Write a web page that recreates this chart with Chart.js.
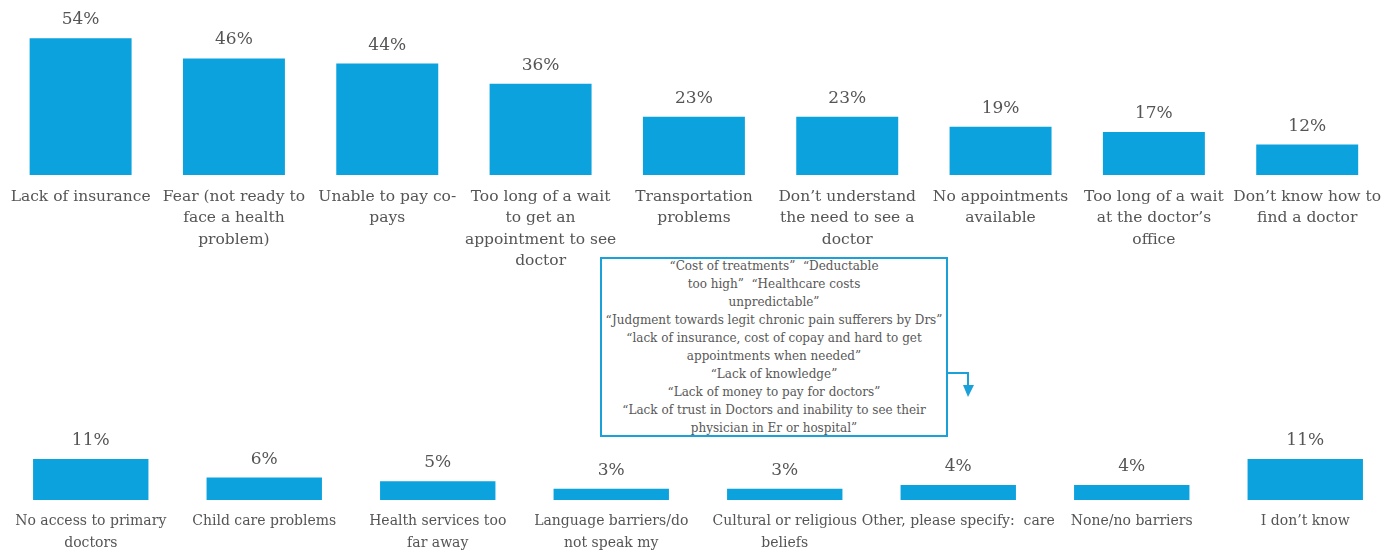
<!DOCTYPE html>
<html>
<head>
<meta charset="utf-8">
<script src="https://cdn.jsdelivr.net/npm/chart.js@4.4.0/dist/chart.umd.min.js"></script>
<style>
  html, body { margin: 0; padding: 0; background: #fff; overflow: hidden; width: 1387px; height: 554px; }
  .wrap { position: absolute; left: 0; }
  #topWrap { top: 0; }
  #bottomWrap { top: 400px; }
  .note {
    position: absolute; left: 600px; top: 257px; width: 348px; height: 180px;
    box-sizing: border-box; border: 2px solid #1ba1d9; background: #fff;
    font: 12px "DejaVu Serif", serif; line-height: 18px; color: #585858;
    text-align: center; white-space: pre;
  }
  .note div { margin-top: -2px; }
  .arrow { position: absolute; left: 946px; top: 366px; }
</style>
</head>
<body>
<div class="wrap" id="topWrap"><canvas id="topChart" width="1392" height="280"></canvas></div>
<div class="note" id="note"><div id="noteText"></div></div>
<svg class="arrow" width="36" height="36" viewBox="0 0 36 36">
  <polyline points="1,7 22,7 22,22" fill="none" stroke="#1ba1d9" stroke-width="2"/>
  <polygon points="17,19 28,19 22,31" fill="#1ba1d9"/>
</svg>
<div class="wrap" id="bottomWrap"><canvas id="bottomChart" width="1392" height="154"></canvas></div>
<script>
  const topCategories = [
    ['Lack of insurance'],
    ['Fear (not ready to', 'face a health', 'problem)'],
    ['Unable to pay co-', 'pays'],
    ['Too long of a wait', 'to get an', 'appointment to see', 'doctor'],
    ['Transportation', 'problems'],
    ['Don\u2019t understand', 'the need to see a', 'doctor'],
    ['No appointments', 'available'],
    ['Too long of a wait', 'at the doctor\u2019s', 'office'],
    ['Don\u2019t know how to', 'find a doctor']
  ];
  const topValues = [54, 46, 44, 36, 23, 23, 19, 17, 12];

  const bottomCategories = [
    ['No access to primary', 'doctors'],
    ['Child care problems'],
    ['Health services too', 'far away'],
    ['Language barriers/do', 'not speak my'],
    ['Cultural or religious', 'beliefs'],
    ['Other, please specify:  care'],
    ['None/no barriers'],
    ['I don\u2019t know']
  ];
  const bottomValues = [11, 6, 5, 3, 3, 4, 4, 11];

  const otherResponses = [
    '\u201cCost of treatments\u201d  \u201cDeductable',
    'too high\u201d  \u201cHealthcare costs',
    'unpredictable\u201d',
    '\u201cJudgment towards legit chronic pain sufferers by Drs\u201d',
    '\u201clack of insurance, cost of copay and hard to get',
    'appointments when needed\u201d',
    '\u201cLack of knowledge\u201d',
    '\u201cLack of money to pay for doctors\u201d',
    '\u201cLack of trust in Doctors and inability to see their',
    'physician in Er or hospital\u201d'
  ];

  const barColor = '#0ba2de';
  const textColor = '#555555';
  const fontFamily = '"DejaVu Serif", serif';

  document.getElementById('noteText').textContent = otherResponses.join('\n');

  // percentage text above each bar
  const valueLabels = {
    id: 'valueLabels',
    afterDatasetsDraw(chart) {
      const ctx = chart.ctx;
      const values = chart.data.datasets[0].data;
      ctx.save();
      ctx.font = '17px ' + fontFamily;
      ctx.fillStyle = textColor;
      ctx.textAlign = 'center';
      ctx.textBaseline = 'alphabetic';
      chart.getDatasetMeta(0).data.forEach((bar, i) => {
        ctx.fillText(values[i] + '%', bar.x, bar.y - 14);
      });
      ctx.restore();
    }
  };

  function barChart(id, labels, values, yMax, padTop, padLeft, axisHeight, labelSize) {
    return new Chart(document.getElementById(id), {
      type: 'bar',
      data: {
        labels: labels,
        datasets: [{
          data: values,
          backgroundColor: barColor,
          borderWidth: 0,
          categoryPercentage: 1,
          barPercentage: 0.665
        }]
      },
      options: {
        responsive: false,
        animation: false,
        layout: { padding: { top: padTop, left: padLeft, right: 0, bottom: 0 } },
        plugins: { legend: { display: false }, tooltip: { enabled: false } },
        scales: {
          x: {
            grid: { display: false, drawTicks: false },
            border: { display: false },
            ticks: {
              color: textColor,
              font: { family: fontFamily, size: labelSize, lineHeight: 21.5 / labelSize },
              padding: 11,
              maxRotation: 0,
              autoSkip: false
            },
            afterFit(scale) { scale.height = axisHeight; }
          },
          y: { display: false, min: 0, max: yMax }
        }
      },
      plugins: [valueLabels]
    });
  }

  barChart('topChart', topCategories, topValues, 60, 23, 2, 105, 15.5);
  barChart('bottomChart', bottomCategories, bottomValues, 15, 44, 4, 54, 14);
</script>
</body>
</html>
